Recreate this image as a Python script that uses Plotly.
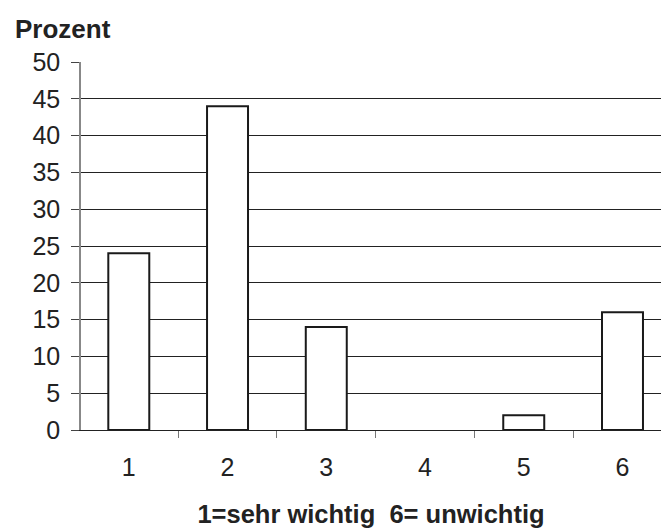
import plotly.graph_objects as go

categories = ["1", "2", "3", "4", "5", "6"]
values = [24, 44, 14, 0, 2, 16]
y_ticks = [0, 5, 10, 15, 20, 25, 30, 35, 40, 45, 50]

outline_widths = [2 if v > 0 else 0 for v in values]

fig = go.Figure()
fig.add_trace(go.Bar(
    x=categories, y=values, width=0.415,
    marker=dict(color="white", line=dict(color="#1a1a1a", width=outline_widths)),
))

fig.update_layout(
    width=661, height=528,
    margin=dict(l=81, r=0, t=62, b=98),
    paper_bgcolor="white", plot_bgcolor="white",
    showlegend=False,
    font=dict(family="Liberation Sans, Arial, sans-serif", color="#222222"),
    annotations=[
        dict(text="<b>Prozent</b>", x=-68/580, y=1 + (62-29)/368, xref="paper", yref="paper",
             showarrow=False, font=dict(size=26, color="#222222"),
             xanchor="left", yanchor="middle"),
    ],
)

fig.update_layout(
    xaxis=dict(
        type="category", range=[-0.484, 5.39],
        tickson="boundaries", ticks="outside", ticklen=7, tickcolor="#777777",
        showgrid=False, showline=True, linecolor="#222222", linewidth=1,
        tickfont=dict(family="Liberation Sans", size=25, color="#222222"),
        ticklabelstandoff=15,
        title=dict(text="<b>1=sehr wichtig&nbsp; 6= unwichtig</b>",
                   font=dict(size=25.5, color="#222222"), standoff=25),
    ),
    yaxis=dict(
        range=[0, 50], tickvals=y_ticks, ticks="outside", ticklen=8, tickcolor="#444444",
        showgrid=True, gridcolor="#222222", gridwidth=1,
        showline=True, linecolor="#888888", linewidth=1.5,
        zeroline=False,
        tickfont=dict(family="Liberation Sans", size=25, color="#222222"),
        ticklabelstandoff=6,
    ),
)

fig.write_html("out.html")
